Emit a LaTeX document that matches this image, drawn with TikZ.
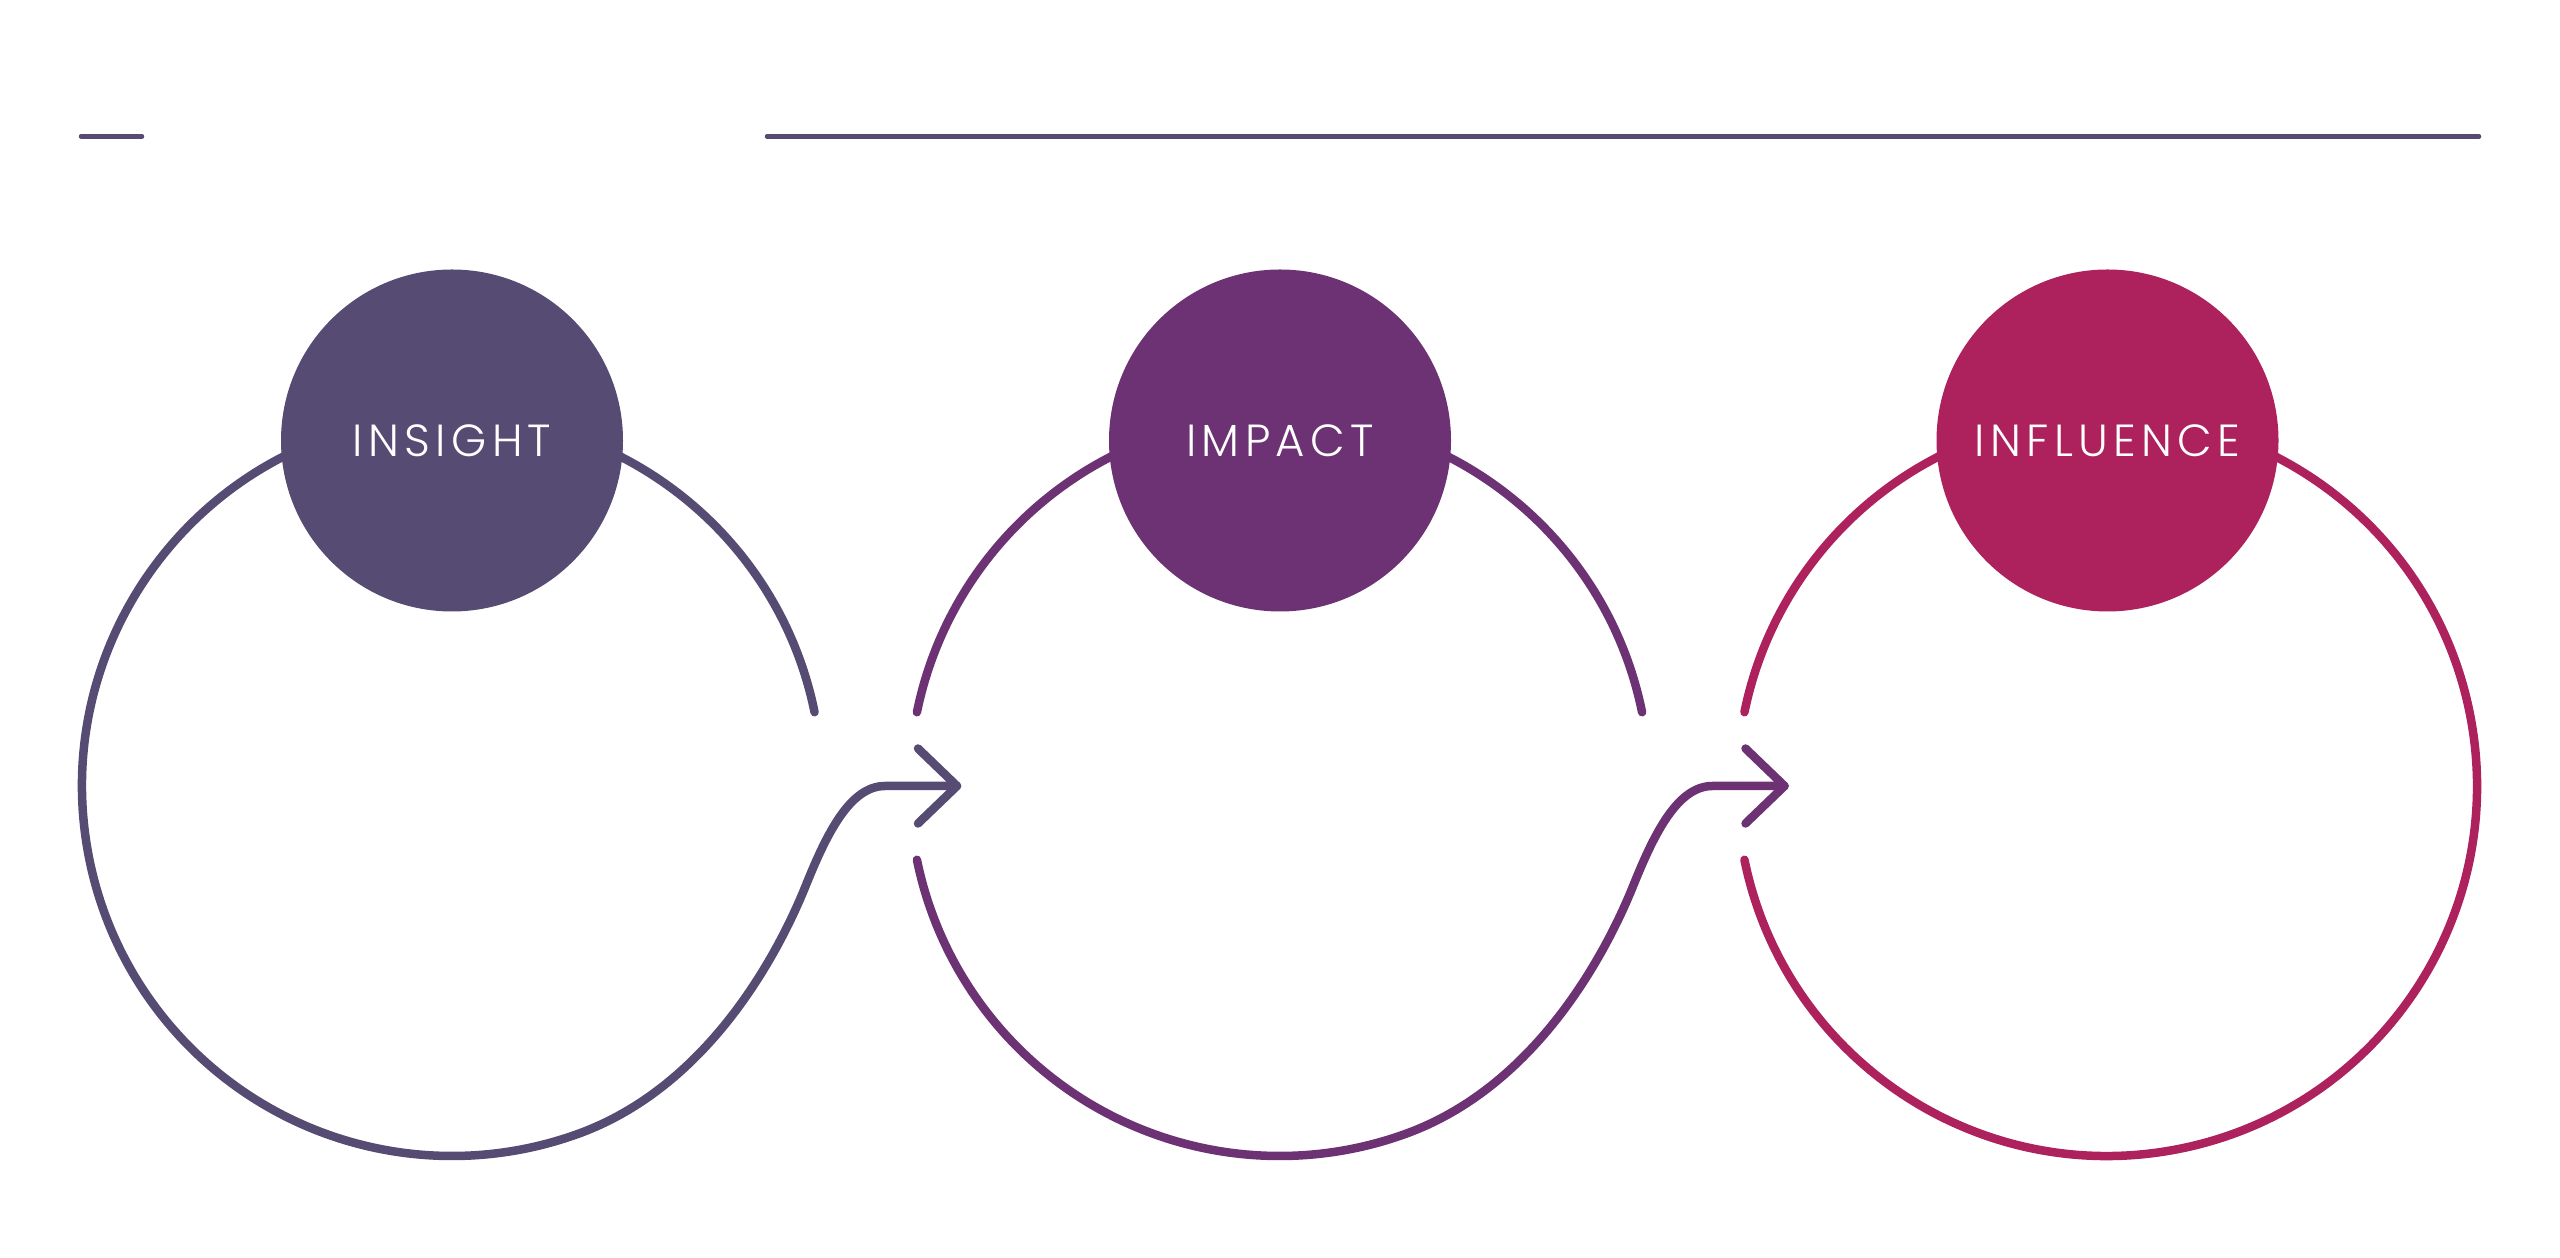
\documentclass[tikz,border=0pt]{standalone}
\usepackage{fontspec}
\usetikzlibrary{calc}
\newfontfamily\lblfont[LetterSpace=12]{Poppins Light}
\definecolor{cA}{RGB}{85,75,115}
\definecolor{cB}{RGB}{108,50,116}
\definecolor{cC}{RGB}{173,33,92}
\begin{document}
\begin{tikzpicture}[x=1pt,y=1pt,
  ring/.style={line width=8.5pt, line cap=round, line join=round},
  rule/.style={line width=4.5pt, line cap=round, draw=cA},
  disc/.style={circle, minimum size=342pt, inner sep=0pt, text=white,
    font=\lblfont\fontsize{45}{45}\selectfont},
]
\useasboundingbox (0,0) rectangle (2560,1258);
% ring centres
\coordinate (r1) at (452,472);
\coordinate (r2) at (1279.5,472);
\coordinate (r3) at (2107,472);
% top rules
\coordinate (la) at (81,1121.5);
\coordinate (lb) at (142,1121.5);
\coordinate (lc) at (767,1121.5);
\coordinate (ld) at (2479,1121.5);
\draw[rule] (la) -- (lb);
\draw[rule] (lc) -- (ld);
% ring 1 with S-curve and arrow
\draw[ring, cA] ($(r1)+(11.5:370pt)$) arc[start angle=11.5, end angle=290, radius=370pt]
  .. controls ($(r1)+(267.5,-296.4)$) and ($(r1)+(335.3,-145.4)$) .. ($(r1)+(354,-99)$)
  .. controls ($(r1)+(374.6,-48)$) and ($(r1)+(398,0)$) .. ($(r1)+(433,0)$) -- ($(r1)+(505,0)$);
\draw[ring, cA] ($(r1)+(466,37.5)$) -- ($(r1)+(505,0)$) -- ($(r1)+(466,-37.5)$);
% ring 2
\draw[ring, cB] ($(r2)+(11.5:370pt)$) arc[start angle=11.5, end angle=168.5, radius=370pt];
\draw[ring, cB] ($(r2)+(191.5:370pt)$) arc[start angle=191.5, end angle=290, radius=370pt]
  .. controls ($(r2)+(267.5,-296.4)$) and ($(r2)+(335.3,-145.4)$) .. ($(r2)+(354,-99)$)
  .. controls ($(r2)+(374.6,-48)$) and ($(r2)+(398,0)$) .. ($(r2)+(433,0)$) -- ($(r2)+(505,0)$);
\draw[ring, cB] ($(r2)+(466,37.5)$) -- ($(r2)+(505,0)$) -- ($(r2)+(466,-37.5)$);
% ring 3
\draw[ring, cC] ($(r3)+(191.5:370pt)$) arc[start angle=191.5, end angle=528.5, radius=370pt];
% discs
\node[disc, fill=cA] (insight) at (452,817.5) {INSIGHT};
\node[disc, fill=cB] (impact) at (1280,817.5) {IMPACT};
\node[disc, fill=cC] (influence) at (2107.5,817.5) {INFLUENCE};
\end{tikzpicture}
\end{document}
